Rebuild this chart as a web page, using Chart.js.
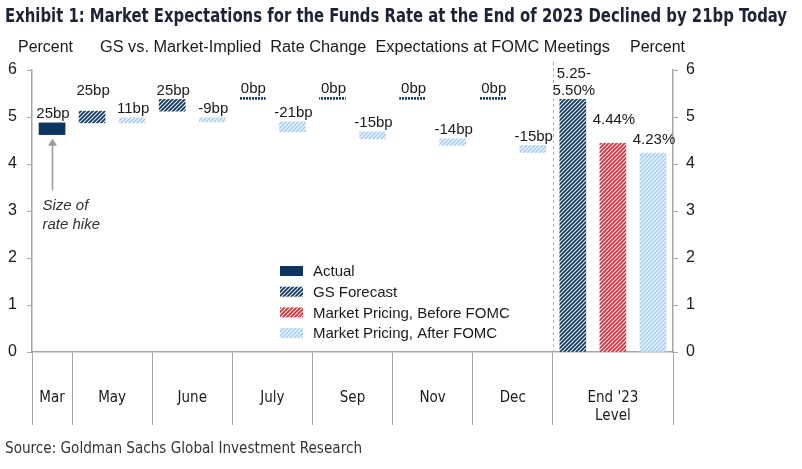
<!DOCTYPE html>
<html>
<head>
<meta charset="utf-8">
<script src="https://cdn.jsdelivr.net/npm/chart.js@4.4.0/dist/chart.umd.min.js"></script>
<style>
  body { margin: 0; background: #fff; }
  #wrap { position: relative; width: 802px; height: 469px; overflow: hidden; font-family: "Liberation Sans", Arial, sans-serif; color: #1a1a1a; }
  #wrap canvas { position: absolute; left: 0; top: 0; }
  .t { position: absolute; white-space: pre; line-height: 1; transform-origin: 0 0; }
  #title { left: 5px; top: 4px; font: bold 19px "DejaVu Sans Condensed", "Liberation Sans Narrow", sans-serif; color: #1b2434; }
  .head { top: 39px; font-size: 16px; }
  #source { left: 5px; top: 438px; font: 16px "DejaVu Sans Condensed", "Liberation Sans Narrow", sans-serif; color: #333; }
</style>
</head>
<body>
<div id="wrap">
  <canvas id="chart" width="802" height="469"></canvas>
  <div class="t" id="title" data-w="782">Exhibit 1: Market Expectations for the Funds Rate at the End of 2023 Declined by 21bp Today</div>
  <div class="t head" style="left:18px" data-w="55">Percent</div>
  <div class="t head" style="left:100px" data-w="510">GS vs. Market-Implied  Rate Change  Expectations at FOMC Meetings</div>
  <div class="t head" style="left:630px" data-w="55">Percent</div>
  <div class="t" id="source" data-w="357">Source: Goldman Sachs Global Investment Research</div>
</div>
<script>
// FOMC meetings and the move at each one (percent, mid of target range)
var meetings = ['Mar', 'May', 'June', 'July', 'Sep', 'Nov', 'Dec'];
var actualRange = [[4.625, 4.875], null, null, null, null, null, null];
var gsRange = [null, [4.875, 5.125], [5.125, 5.375], [5.375, 5.375], [5.375, 5.375], [5.375, 5.375], [5.375, 5.375]];
var afterRange = [null, [4.875, 4.985], [4.985, 4.895], [4.895, 4.685], [4.685, 4.535], [4.535, 4.395], [4.395, 4.245]];
var actualText = ['25bp', null, null, null, null, null, null];
var gsText = [null, '25bp', '25bp', '0bp', '0bp', '0bp', '0bp'];
var afterText = [null, '11bp', '-9bp', '-21bp', '-15bp', '-14bp', '-15bp'];

// end of 2023 level
var endCategory = ["End '23", 'Level'];
var endLevels = [5.375, 4.44, 4.23]; // GS, before FOMC, after FOMC
var endText = [['5.25-', '5.50%'], '4.44%', '4.23%'];

var yTicks = [0, 1, 2, 3, 4, 5, 6];

var NAVY = '#0c3461', GSNAVY = '#11385f', RED = '#c9373b', LIGHT = '#a9d0f1', AXIS = '#a6a6a6';

// squeeze the header texts to the width they have in the original
document.querySelectorAll('[data-w]').forEach(function (d) {
  var w = d.getBoundingClientRect().width;
  d.style.transform = 'scaleX(' + (+d.dataset.w / w) + ')';
});

function hatch(color, w) {
  var c = document.createElement('canvas');
  c.width = 4; c.height = 4;
  var g = c.getContext('2d');
  g.fillStyle = '#fff';
  g.fillRect(0, 0, 4, 4);
  g.strokeStyle = color;
  g.lineWidth = w || 1.9;
  g.beginPath();
  g.moveTo(0, 4); g.lineTo(4, 0);
  g.moveTo(-1, 1); g.lineTo(1, -1);
  g.moveTo(3, 5); g.lineTo(5, 3);
  g.stroke();
  return g.createPattern(c, 'repeat');
}
function dotted(color) {
  var c = document.createElement('canvas');
  c.width = 3; c.height = 2;
  var g = c.getContext('2d');
  g.fillStyle = '#fff';
  g.fillRect(0, 0, 3, 2);
  g.fillStyle = color;
  g.fillRect(0, 0, 2, 2);
  return g.createPattern(c, 'repeat');
}

var gsHatch = hatch(GSNAVY), redHatch = hatch(RED), lightHatch = hatch(LIGHT), gsDots = dotted(GSNAVY);

// lay the bars out one slot each, meeting by meeting
var slot = 0;
var pts = { actual: [], gs: [], before: [], after: [] };
var catStart = [], catLabel = [];
meetings.forEach(function (m, i) {
  catStart.push(slot);
  catLabel.push(m);
  [['actual', actualRange, actualText], ['gs', gsRange, gsText], ['after', afterRange, afterText]].forEach(function (s) {
    if (s[1][i]) {
      pts[s[0]].push({ x: slot + 0.5, y: s[1][i], label: s[2][i] });
      slot++;
    }
  });
});
catStart.push(slot);
catLabel.push(endCategory);
pts.gs.push({ x: slot + 0.5, y: [0, endLevels[0]], label: endText[0] });
pts.before.push({ x: slot + 1.5, y: [0, endLevels[1]], label: endText[1] });
pts.after.push({ x: slot + 2.5, y: [0, endLevels[2]], label: endText[2] });
slot += 3;
var total = slot;
var bounds = catStart.concat([total]);
var centers = [];
for (var i = 0; i < catStart.length; i++) centers.push((bounds[i] + bounds[i + 1]) / 2);
var xTickVals = bounds.concat(centers).sort(function (a, b) { return a - b; });

function isBound(v) { return bounds.indexOf(v) >= 0; }

var barLabels = {
  id: 'barLabels',
  afterDatasetsDraw: function (chart, args, opts) {
    var ctx = chart.ctx;
    ctx.save();
    ctx.font = '15px "Liberation Sans", Arial, sans-serif';
    ctx.fillStyle = '#1a1a1a';
    ctx.textAlign = 'center';
    ctx.textBaseline = 'middle';
    chart.data.datasets.forEach(function (ds, di) {
      chart.getDatasetMeta(di).data.forEach(function (el, j) {
        var txt = ds.data[j].label;
        if (!txt) return;
        var top = Math.min(el.y, el.base);
        var lift = (opts.lift[di + '-' + j] || 0);
        var lines = Array.isArray(txt) ? txt : [txt];
        lines.forEach(function (t, k) {
          ctx.fillText(t, el.x + 1, top - 9 - lift - (lines.length - 1 - k) * 16.5);
        });
      });
    });
    ctx.restore();
  }
};

var extras = {
  id: 'extras',
  afterDatasetsDraw: function (chart) {
    var ctx = chart.ctx, xs = chart.scales.x, area = chart.chartArea;
    ctx.save();
    // divider between meetings and end-of-year level
    var xd = Math.round(xs.getPixelForValue(catStart[catStart.length - 1])) + 0.5;
    ctx.strokeStyle = '#b0b0b0';
    ctx.lineWidth = 1;
    ctx.setLineDash([3, 3]);
    ctx.beginPath();
    ctx.moveTo(xd, 62); ctx.lineTo(xd, area.bottom);
    ctx.stroke();
    ctx.setLineDash([]);

    // arrow pointing at the actual hike
    var el = chart.getDatasetMeta(0).data[0];
    var bx = Math.round(el.x) + 0.5, by = Math.max(el.y, el.base);
    ctx.strokeStyle = '#9a9a9a';
    ctx.fillStyle = '#9a9a9a';
    ctx.lineWidth = 1.5;
    ctx.beginPath();
    ctx.moveTo(bx, by + 10); ctx.lineTo(bx, by + 56);
    ctx.stroke();
    ctx.beginPath();
    ctx.moveTo(bx, by + 4); ctx.lineTo(bx - 4.5, by + 11); ctx.lineTo(bx + 4.5, by + 11);
    ctx.closePath();
    ctx.fill();
    ctx.font = 'italic 15px "Liberation Sans", Arial, sans-serif';
    ctx.fillStyle = '#333';
    ctx.textAlign = 'left';
    ctx.textBaseline = 'middle';
    ctx.fillText('Size of', bx - 10, by + 71);
    ctx.fillText('rate hike', bx - 10, by + 90);

    // legend
    var lx = 280, ly = 271;
    ctx.font = '15px "Liberation Sans", Arial, sans-serif';
    chart.data.datasets.forEach(function (ds, k) {
      var y = ly + k * 20.7;
      ctx.fillStyle = ds.legendFill;
      ctx.fillRect(lx, y - 5, 23, 10);
      ctx.fillStyle = '#1a1a1a';
      ctx.fillText(ds.label, lx + 33, y + 1);
    });
    ctx.restore();
  }
};

function yAxis(pos, width, pad) {
  return {
    type: 'linear', position: pos, min: 0, max: 6,
    afterBuildTicks: function (s) { s.ticks = yTicks.map(function (v) { return { value: v }; }); },
    afterFit: function (s) { s.width = width; },
    grid: { drawOnChartArea: false, tickLength: 5, color: AXIS },
    border: { color: AXIS, width: 1.5 },
    ticks: { padding: pad, color: '#1a1a1a', font: { family: '"Liberation Sans", Arial, sans-serif', size: 16 } }
  };
}

new Chart(document.getElementById('chart'), {
  type: 'bar',
  data: {
    datasets: [
      { label: 'Actual', data: pts.actual, backgroundColor: NAVY, legendFill: NAVY, yAxisID: 'y' },
      { label: 'GS Forecast', data: pts.gs, minBarLength: 2, legendFill: gsHatch, yAxisID: 'y',
        backgroundColor: function (c) { var r = c.raw; return (r && r.y[0] === r.y[1]) ? gsDots : gsHatch; } },
      { label: 'Market Pricing, Before FOMC', data: pts.before, backgroundColor: redHatch, legendFill: redHatch, yAxisID: 'y' },
      { label: 'Market Pricing, After FOMC', data: pts.after, backgroundColor: lightHatch, legendFill: lightHatch, yAxisID: 'y' }
    ]
  },
  options: {
    responsive: false,
    animation: false,
    layout: { padding: { top: 70, left: 0, right: 0, bottom: 0 } },
    datasets: { bar: { grouped: false, barThickness: 26, borderWidth: 0 } },
    plugins: { legend: { display: false }, tooltip: { enabled: false },
      barLabels: { lift: { '1-0': 11, '2-0': 14, '3-6': 4 } } },
    scales: {
      x: {
        type: 'linear', min: 0, max: total, offset: false,
        afterBuildTicks: function (s) { s.ticks = xTickVals.map(function (v) { return { value: v }; }); },
        afterFit: function (s) { s.height = 117; },
        grid: { drawOnChartArea: false, tickLength: 73, offset: false,
          color: function (c) { return c.tick && isBound(c.tick.value) ? AXIS : 'rgba(0,0,0,0)'; } },
        border: { color: AXIS, width: 1.5 },
        ticks: {
          autoSkip: false, maxRotation: 0, padding: -36, color: '#1a1a1a',
          font: { family: '"DejaVu Sans Condensed", "Liberation Sans Narrow", sans-serif', size: 15 },
          callback: function (v) { var k = centers.indexOf(v); return k >= 0 ? catLabel[k] : ''; }
        }
      },
      y: yAxis('left', 32, 10),
      y2: yAxis('right', 129, 8)
    }
  },
  plugins: [barLabels, extras]
});
</script>
</body>
</html>
